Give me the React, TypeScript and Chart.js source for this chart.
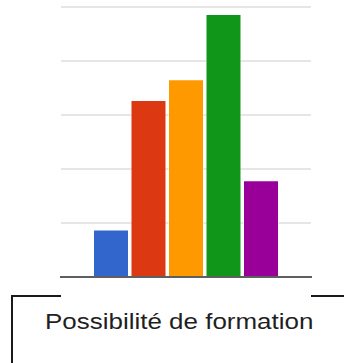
import React, { useEffect, useRef } from "react";
import { Chart, registerables } from "chart.js";

Chart.register(...registerables);

const categories = ["Possibilité de formation"];
const seriesNames = ["Option 1", "Option 2", "Option 3", "Option 4", "Option 5"];
const seriesValues = [8.8, 32.8, 36.6, 48.7, 17.9];
const seriesColors = ["#3366cc", "#dc3912", "#ff9900", "#109618", "#990099"];
const yMax = 50;
const yStep = 10;
const titleText = "Possibilité de formation";

export default function App() {
  const ref = useRef<HTMLCanvasElement | null>(null);

  useEffect(() => {
    if (!ref.current) return;
    const chart = new Chart(ref.current, {
      type: "bar",
      data: {
        labels: categories,
        datasets: seriesNames.map((name, i) => ({
          label: name,
          data: [seriesValues[i]],
          backgroundColor: seriesColors[i],
          borderColor: "rgba(255,255,255,0.55)",
          borderWidth: 1,
          categoryPercentage: 0.75,
          barPercentage: 0.96,
        })),
      },
      options: {
        animation: false,
        responsive: false,
        devicePixelRatio: 1,
        layout: { padding: { left: 61, right: 33, top: 7, bottom: 3 } },
        plugins: {
          legend: { display: false },
          tooltip: { enabled: false },
          title: { display: false },
        },
        scales: {
          x: {
            ticks: { display: false },
            grid: { display: false, drawTicks: false },
            border: { display: true, color: "#5f5f5f", width: 2 },
          },
          y: {
            min: 0,
            max: yMax,
            ticks: { display: false, stepSize: yStep },
            grid: { color: "#e6e6e6", lineWidth: 2, drawTicks: false },
            border: { display: false },
          },
        },
      },
    });
    return () => chart.destroy();
  }, []);

  return (
    <div
      style={{
        position: "fixed",
        left: 0,
        top: 0,
        width: 344,
        height: 363,
        background: "#fff",
        overflow: "hidden",
      }}
    >
      <canvas
        ref={ref}
        width={344}
        height={280}
        style={{ position: "absolute", left: 0, top: 0, width: 344, height: 280 }}
      />
      <div style={{ position: "absolute", left: 11, top: 295, width: 50, height: 2, background: "#1a1a1a" }} />
      <div style={{ position: "absolute", left: 311, top: 295, width: 40, height: 2, background: "#1a1a1a" }} />
      <div style={{ position: "absolute", left: 11, top: 295, width: 2, height: 80, background: "#1a1a1a" }} />
      <div
        style={{
          position: "absolute",
          left: 45,
          top: 311,
          fontFamily: "'Liberation Sans', Arial, sans-serif",
          fontSize: 22,
          lineHeight: "22px",
          color: "#1f1f1f",
          whiteSpace: "nowrap",
          transform: "scaleX(1.18)",
          transformOrigin: "0 0",
        }}
      >
        {titleText}
      </div>
    </div>
  );
}
